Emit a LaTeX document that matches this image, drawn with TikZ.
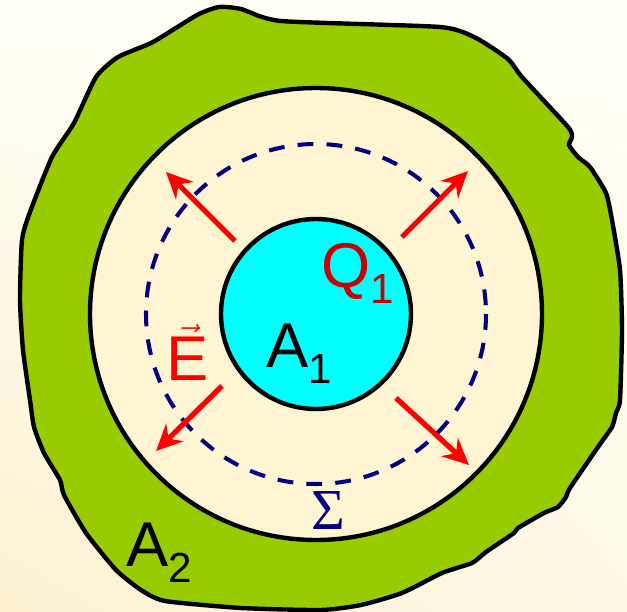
\documentclass[tikz,border=0pt]{standalone}
\usepackage{fontspec}
\setmainfont{Liberation Sans}
\newfontfamily\sigmafont{Liberation Serif}
\usetikzlibrary{arrows.meta, positioning, calc, shadings}
\definecolor{bgcream}{HTML}{FCF0D0}
\definecolor{bgwhite}{HTML}{FFFFF6}
\definecolor{shellgreen}{HTML}{99CC00}
\definecolor{gapcream}{HTML}{FFF5D3}
\definecolor{coreblue}{HTML}{00FFFF}
\definecolor{fieldred}{HTML}{FF0000}
\definecolor{chargered}{HTML}{CC0000}
\definecolor{gaussnavy}{HTML}{000080}
\tikzset{
  outline/.style  = {draw=black, line width=2.5pt},
  gauss/.style    = {draw=gaussnavy, line width=2.3pt,
                     dash pattern=on 9pt off 7.5pt},
  field/.style    = {-{Stealth[length=15pt, width=14pt, inset=5pt]},
                     draw=fieldred, line width=3pt},
  biglabel/.style = {inner sep=0pt, anchor=base west,
                     font=\fontsize{36}{40}\selectfont},
}
\newcommand{\sublab}[2]{#1\raisebox{-9pt}{\fontsize{24}{24}\selectfont #2}}

\begin{document}
\begin{tikzpicture}[x=0.02cm, y=-0.02cm]
  \shade[upper left=bgwhite, upper right=bgwhite,
         lower left=bgcream, lower right=bgwhite!60!bgcream]
        (0,0) rectangle (627,612);
  \useasboundingbox (0,0) rectangle (627,612);
  \coordinate (c) at (316,314);
  \draw[outline, fill=shellgreen] plot[smooth cycle, tension=0.35] coordinates {
    (118,57) (153,42) (197,15) (219,7) (241,9) (281,21) (440,27) (476,38)
    (508,59) (522,77) (568,127) (572,137) (569,145) (578,157) (590,167)
    (606,193) (612,220) (620,270) (622,330) (620,400) (616,413) (612,427)
    (598,447) (570,488) (566,497) (558,507) (544,513) (518,528) (514,533)
    (486,552) (472,563) (442,573) (402,593) (361,605) (321,610) (241,608)
    (165,601) (141,590) (116,570) (86,533) (64,495) (60,480) (44,453)
    (34,427) (30,400) (23,350) (20,300) (22,240) (30,212) (52,157)
    (74,123) (96,77)};
  \draw[outline, fill=gapcream] (c) circle[radius=226];
  \draw[gauss] (c) circle[radius=170];
  \draw[outline, fill=coreblue] (c) circle[radius=95];
  \coordinate (ul0) at (235,241); \coordinate (ul1) at (166,172);
  \coordinate (ur0) at (402,237); \coordinate (ur1) at (468,171);
  \coordinate (ll0) at (222,386); \coordinate (ll1) at (156,451);
  \coordinate (lr0) at (396,398); \coordinate (lr1) at (469,465);
  \draw[field] (ul0) -- (ul1); \draw[field] (ur0) -- (ur1);
  \draw[field] (ll0) -- (ll1); \draw[field] (lr0) -- (lr1);
  \node[biglabel, text=chargered] (q1) at (321,288) {\sublab{Q}{1}};
  \node[biglabel] (a1) at (266,368) {\sublab{A}{1}};
  \node[biglabel, text=fieldred] (e) at (166,380) {$\vec{\mbox{E}}$};
  \node[biglabel, text=gaussnavy, font=\fontsize{33}{36}\sigmafont] (sigma)
        at (311,530) {Σ};
  \node[biglabel] (a2) at (126,567) {\sublab{A}{2}};
\end{tikzpicture}
\end{document}
